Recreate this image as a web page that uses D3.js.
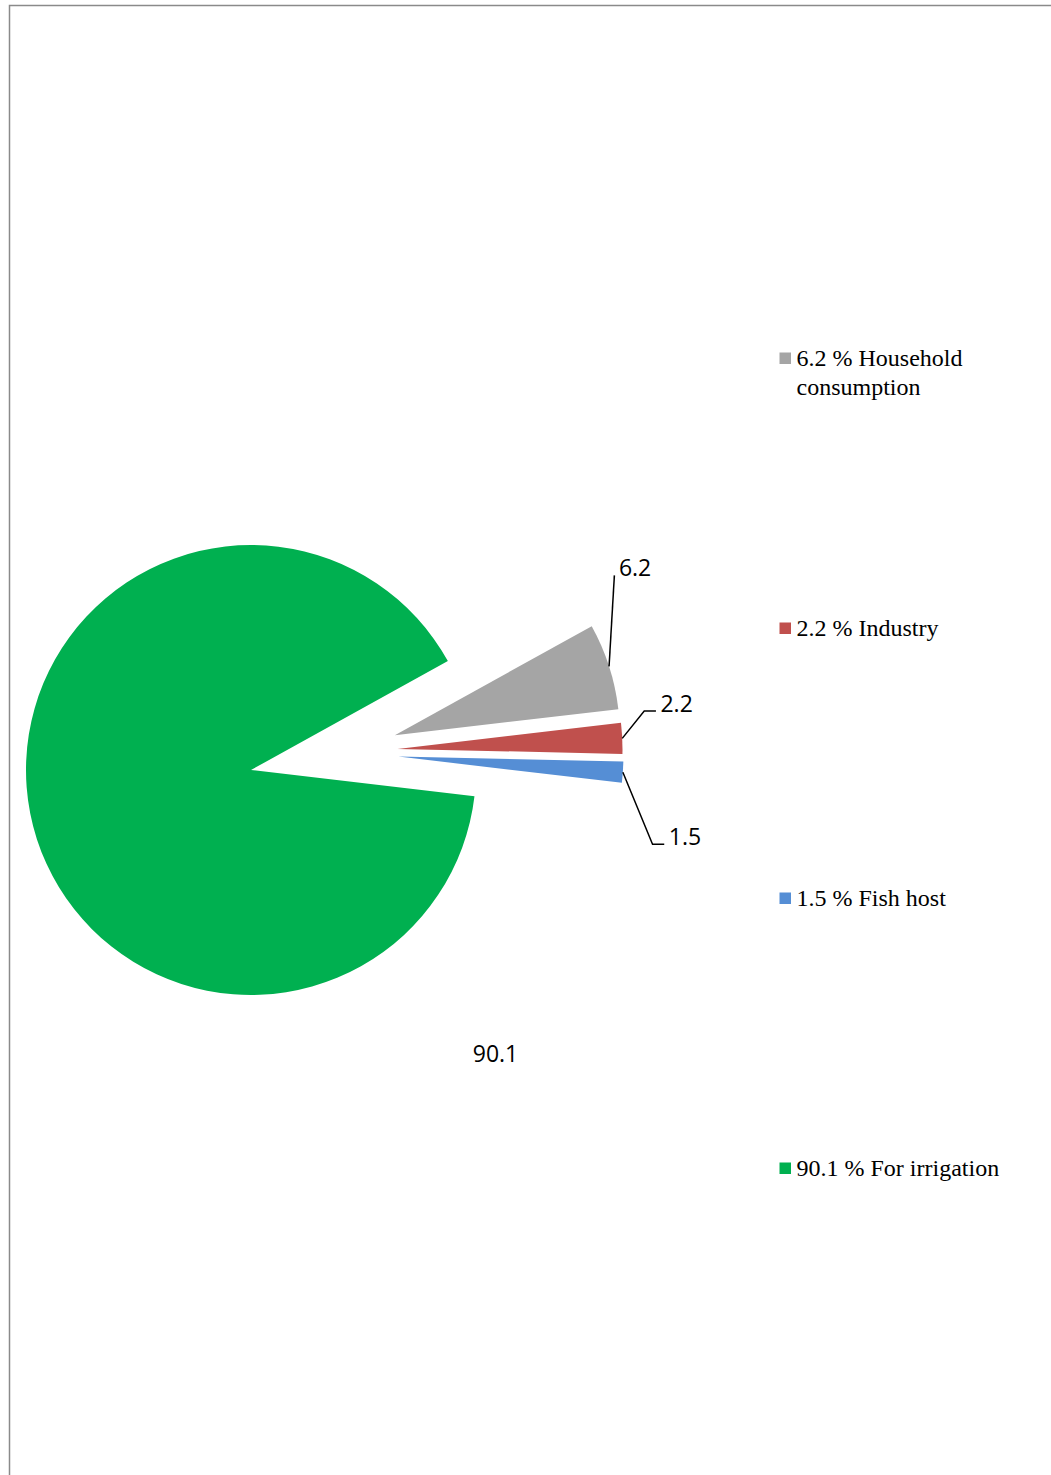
<!DOCTYPE html>
<html>
<head>
<meta charset="utf-8">
<script src="https://cdn.jsdelivr.net/npm/d3@7"></script>
<style>
  html, body { margin: 0; padding: 0; background: #fff; }
  svg { display: block; }
</style>
</head>
<body>
<svg id="chart" width="1051" height="1475"></svg>
<script>
// ---- data ----
const categories = ["Household consumption", "Industry", "Fish host", "For irrigation"];
const values = [6.2, 2.2, 1.5, 90.1];
const legendLabels = ["6.2 % Household consumption", "2.2 % Industry", "1.5 % Fish host", "90.1 % For irrigation"];
const dataLabels = ["6.2", "2.2", "1.5", "90.1"];

// ---- styles / layout ----
const colors = ["#A5A5A5", "#C0504D", "#558ED5", "#00B050"];
const explodeDist = [148, 148, 148, 0];
const explodeDirDeg = [13.6, 8.2, 5.2, 0];   // direction above horizontal
const startDeg = 61.04;
const cx = 251, cy = 770, R = 225;
// leader: offset of leader end from arc mid point, elbow offset, horizontal tail
const leaderElbow = [[5.3, -91], [22, -27.3], [29.7, 72]];
const leaderTail = [0, 11.7, 11.7];
const bigLabelOffset = [244.5, 292];

const svg = d3.select("#chart");

// frame
svg.append("path")
  .attr("d", "M9.5,1475 L9.5,5.5 L1051,5.5")
  .attr("fill", "none").attr("stroke", "#8a8a8a").attr("stroke-width", 1.5);

const pie = d3.pie().sort(null).value(d => d)
  .startAngle(startDeg * Math.PI / 180)
  .endAngle(startDeg * Math.PI / 180 + 2 * Math.PI);
const arcs = pie(values);
const arc = d3.arc().innerRadius(0).outerRadius(R);
const arcMid = d3.arc().innerRadius(R).outerRadius(R);

function offset(i) {
  const a = explodeDirDeg[i] * Math.PI / 180;
  return [cx + explodeDist[i] * Math.cos(a), cy - explodeDist[i] * Math.sin(a)];
}

const g = svg.append("g");
arcs.forEach((d, i) => {
  const [ox, oy] = offset(i);
  g.append("path")
    .attr("transform", `translate(${ox},${oy})`)
    .attr("d", arc(d))
    .attr("fill", colors[i]);
});

// data labels with leader lines
const labelFont = "'Open Sans', 'Noto Sans', sans-serif";
arcs.forEach((d, i) => {
  const [ox, oy] = offset(i);
  if (i < 3) {
    const m = arcMid.centroid(d);
    const ax = ox + m[0], ay = oy + m[1];
    const ex = ax + leaderElbow[i][0], ey = ay + leaderElbow[i][1];
    const tx = ex + leaderTail[i];
    svg.append("polyline")
      .attr("points", `${ax},${ay} ${ex},${ey} ${tx},${ey}`)
      .attr("fill", "none").attr("stroke", "#000").attr("stroke-width", 1.5);
    svg.append("text")
      .attr("x", tx + 4.5).attr("y", ey + 1)
      .attr("font-family", labelFont).attr("font-size", 23)
      .attr("fill", "#000")
      .text(dataLabels[i]);
  } else {
    svg.append("text")
      .attr("x", cx + bigLabelOffset[0]).attr("y", cy + bigLabelOffset[1])
      .attr("text-anchor", "middle")
      .attr("font-family", labelFont).attr("font-size", 23)
      .attr("fill", "#000")
      .text(dataLabels[i]);
  }
});

// legend
const legendX = 779.5, legendY0 = 366, legendStep = 270;
const lg = svg.append("g").attr("font-family", "'Liberation Serif', 'Times New Roman', serif").attr("font-size", 24);
legendLabels.forEach((lab, i) => {
  const y = legendY0 + i * legendStep;
  lg.append("rect")
    .attr("x", legendX).attr("y", y - 13.5).attr("width", 11.5).attr("height", 11.5)
    .attr("fill", colors[i]);
  const t = lg.append("text").attr("x", legendX + 17).attr("y", y).attr("fill", "#000");
  if (i === 0) {
    t.append("tspan").attr("x", legendX + 17).attr("y", y).text("6.2 % Household");
    t.append("tspan").attr("x", legendX + 17).attr("y", y + 28.5).text("consumption");
  } else {
    t.text(lab);
  }
});
</script>
</body>
</html>
